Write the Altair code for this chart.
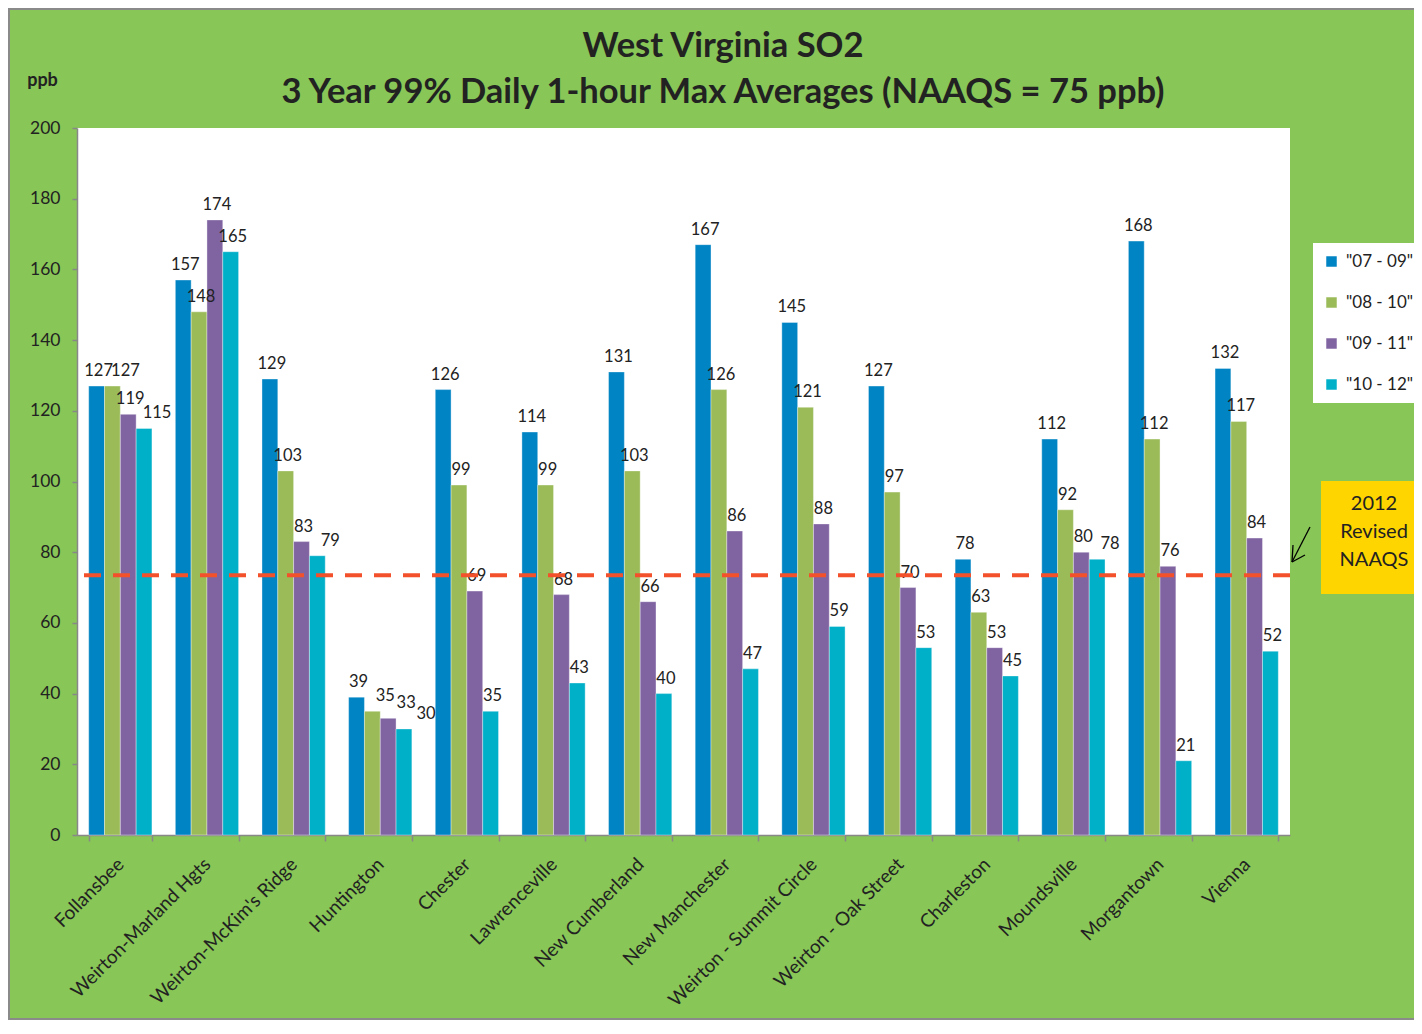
import altair as alt
import pandas as pd

# ---------------- data ----------------
sites = ["Follansbee", "Weirton-Marland Hgts", "Weirton-McKim's Ridge", "Huntington",
         "Chester", "Lawrenceville", "New Cumberland", "New Manchester",
         "Weirton - Summit Circle", "Weirton - Oak Street", "Charleston",
         "Moundsville", "Morgantown", "Vienna"]
series = ['"07 - 09"', '"08 - 10"', '"09 - 11"', '"10 - 12"']
v0709 = [127, 157, 129, 39, 126, 114, 131, 167, 145, 127, 78, 112, 168, 132]
v0810 = [127, 148, 103, 35, 99, 99, 103, 126, 121, 97, 63, 92, 112, 117]
v0911 = [119, 174, 83, 33, 69, 68, 66, 86, 88, 70, 53, 80, 76, 84]
v1012 = [115, 165, 79, 30, 35, 43, 40, 47, 59, 53, 45, 78, 21, 52]
naaqs_line = [73.5]
y_ticks = [0, 20, 40, 60, 80, 100, 120, 140, 160, 180, 200]
title_line1 = "West Virginia SO2"
title_line2 = "3 Year 99% Daily 1-hour Max Averages (NAAQS = 75 ppb)"
note_text = "2012\nRevised\nNAAQS"

colors = ["#0084C4", "#9BBB59", "#8064A2", "#00AFC8"]
BG = "#88C657"
FONT = "Lato"
INK = "#222222"
AXIS_GRAY = "#888888"

all_vals = [v0709, v0810, v0911, v1012]
rows = []
for j, site in enumerate(sites):
    level = 0
    for i, s in enumerate(series):
        v = all_vals[i][j]
        # a label that would collide with its left neighbour's label (nearly equal
        # height) is pushed to the right; a chain of such labels is pushed further
        if i > 0 and abs(v - all_vals[i - 1][j]) <= 5:
            level += 1
        else:
            level = 0
        rows.append({"site": site, "period": s, "ppb": v, "level": level})
df = pd.DataFrame(rows)
one = pd.DataFrame({"k": [0]})

W, H = 1213, 707

x_enc = alt.X(
    "site:N", sort=sites,
    scale=alt.Scale(paddingInner=0.27, paddingOuter=0.135),
    axis=alt.Axis(title=None, labelAngle=315, labelAlign="right", labelBaseline="middle",
                  labelFontSize=19, labelFont=FONT, labelColor=INK, labelPadding=20,
                  labelLimit=400, tickBand="extent", tickSize=6, tickColor=AXIS_GRAY,
                  tickWidth=1.5, domainColor=AXIS_GRAY, domainWidth=1.5,
                  labelOverlap=False))
xo_enc = alt.XOffset("period:N", sort=series, scale=alt.Scale(paddingInner=0, paddingOuter=0))
y_enc = alt.Y(
    "ppb:Q", scale=alt.Scale(domain=[0, 200], nice=False),
    axis=alt.Axis(values=y_ticks, grid=False, title="ppb", titleAngle=0, titleX=-35,
                  titleY=-48, titleAlign="center", titleBaseline="middle",
                  titleFontSize=18, titleFont=FONT, titleFontWeight="bold",
                  titleColor=INK, labelFontSize=17.5, labelFont=FONT, labelColor=INK,
                  labelPadding=12, tickSize=5, tickColor=AXIS_GRAY, tickWidth=1.5,
                  domainColor=AXIS_GRAY, domainWidth=1.5))
color_enc = alt.Color(
    "period:N", sort=series,
    scale=alt.Scale(domain=series, range=colors),
    legend=alt.Legend(title=None, orient="none", legendX=1236, legendY=115,
                      fillColor="white", padding=10, symbolType="square",
                      symbolSize=110, symbolStrokeWidth=0, labelFontSize=17,
                      labelFont=FONT, labelColor=INK, rowPadding=23, labelOffset=6))

bars = alt.Chart(df).mark_bar(stroke="white", strokeWidth=0.6, strokeOpacity=0.6).encode(
    x=x_enc, xOffset=xo_enc, y=y_enc, color=color_enc)

label_enc = dict(x=alt.X("site:N", sort=sites), xOffset=alt.XOffset("period:N", sort=series),
                 y=alt.Y("ppb:Q"), text="ppb:Q")
level_dx = {0: 2, 1: 13, 2: 18, 3: 22}
label_layers = [
    alt.Chart(df).transform_filter(f"datum.level == {lv}").mark_text(
        baseline="alphabetic", dy=-10, dx=dx, fontSize=16.5, font=FONT, color=INK
    ).encode(**label_enc)
    for lv, dx in level_dx.items()
]

ref = alt.Chart(pd.DataFrame({"ppb": naaqs_line})).mark_rule(
    color="#F2512B", strokeWidth=4, strokeDash=[17, 12]).encode(y=alt.Y("ppb:Q"))

arrow_shaft = alt.Chart(one).mark_rule(color="black", strokeWidth=1.3).encode(
    x=alt.value(1233), x2=alt.value(1215), y=alt.value(399), y2=alt.value(434))
arrow_a = alt.Chart(one).mark_rule(color="black", strokeWidth=1.3).encode(
    x=alt.value(1215), x2=alt.value(1216), y=alt.value(434), y2=alt.value(417))
arrow_b = alt.Chart(one).mark_rule(color="black", strokeWidth=1.3).encode(
    x=alt.value(1215), x2=alt.value(1228), y=alt.value(434), y2=alt.value(427))

note_box = alt.Chart(one).mark_rect(color="#FFD500").encode(
    x=alt.value(1244), x2=alt.value(1350), y=alt.value(353), y2=alt.value(466))
note = alt.Chart(one).mark_text(fontSize=20, font=FONT, color=INK, lineHeight=28,
                                align="center", baseline="middle", lineBreak="\n").encode(
    x=alt.value(1297), y=alt.value(376), text=alt.value(note_text))

title1 = alt.Chart(one).mark_text(fontSize=34.5, font=FONT, fontWeight="bold", color=INK,
                                  align="center", baseline="alphabetic").encode(
    x=alt.value(646), y=alt.value(-71), text=alt.value(title_line1))
title2 = alt.Chart(one).mark_text(fontSize=34.5, font=FONT, fontWeight="bold", color=INK,
                                  align="center", baseline="alphabetic").encode(
    x=alt.value(646), y=alt.value(-25), text=alt.value(title_line2))

frame = alt.Chart(one).mark_rect(fill=None, stroke="#8a8a8a", strokeWidth=2).encode(
    x=alt.value(-68), x2=alt.value(1352), y=alt.value(-119), y2=alt.value(891))

chart = alt.layer(bars, *label_layers, ref, arrow_shaft, arrow_a, arrow_b,
                  note_box, note, title1, title2, frame).properties(
    width=W, height=H,
    background=BG,
    padding={"left": 69, "top": 120, "right": 124, "bottom": 185},
    autosize=alt.AutoSizeParams(type="none"),
).configure_view(strokeWidth=0, fill="white")

chart.save("out.html", embed_options={"renderer": "svg", "actions": False})
